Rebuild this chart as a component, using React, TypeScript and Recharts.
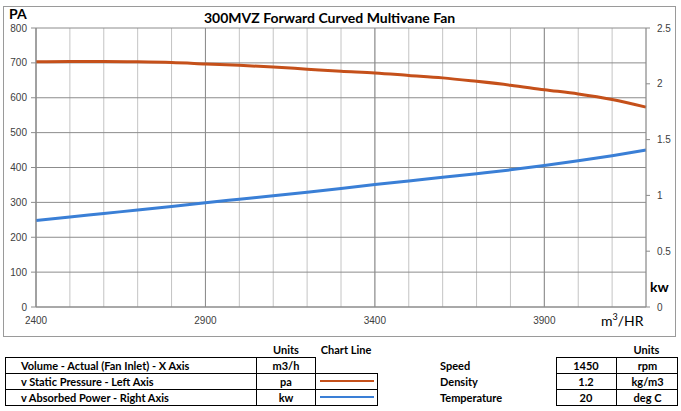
import { LineChart, Line, XAxis, YAxis, CartesianGrid, ReferenceLine } from 'recharts';
import type { CSSProperties, ReactNode } from 'react';

// volume flow, m3/hr
const flowRate = [2400, 2500, 2600, 2700, 2800, 2900, 3000, 3100, 3200, 3300, 3400, 3500, 3600, 3700, 3800, 3900, 4000, 4100, 4200];
// static pressure, Pa (left axis)
const staticPressure = [703, 704, 704, 703, 701, 697, 693, 688, 682, 676, 671, 664, 657, 647, 636, 623, 611, 595, 573];
// absorbed power, kW (right axis)
const absorbedPower = [0.775, 0.806, 0.838, 0.869, 0.901, 0.935, 0.966, 0.997, 1.029, 1.062, 1.097, 1.13, 1.162, 1.195, 1.229, 1.268, 1.31, 1.356, 1.406];

const xGridTicks = [2400, 2500, 2600, 2700, 2800, 2900, 3000, 3100, 3200, 3300, 3400, 3500, 3600, 3700, 3800, 3900, 4000, 4100, 4200];
const xLabelTicks = [2400, 2900, 3400, 3900];
const paTicks = [0, 100, 200, 300, 400, 500, 600, 700, 800];
const kwTicks = [0, 0.5, 1, 1.5, 2, 2.5];

const ORANGE = '#c5501a';
const BLUE = '#3a7fd6';
const GRID_DARK = '#8c8c8c';
const GRID_LIGHT = '#c4c4c4';

const data = flowRate.map((q, i) => ({ q, pa: staticPressure[i], kw: absorbedPower[i] }));

const tickStyle = { fontSize: 10, fill: '#404040', fontFamily: '"Liberation Sans", Arial, sans-serif' };
const boldFont = 'Lato, "Liberation Sans", sans-serif';

function Txt({ x, y, w, align = 'left', size = 11, bold = true, children }: { x: number; y: number; w?: number; align?: 'left' | 'center' | 'right'; size?: number; bold?: boolean; children: ReactNode }) {
    const style: CSSProperties = {
        position: 'absolute',
        left: x,
        top: y,
        width: w,
        textAlign: align,
        fontSize: size,
        fontWeight: bold ? 700 : 400,
        fontFamily: boldFont,
        lineHeight: '16px',
        color: '#000',
        whiteSpace: 'nowrap',
    };
    return <div style={style}>{children}</div>;
}

function Box({ x, y, w, h, style }: { x: number; y: number; w: number; h: number; style?: CSSProperties }) {
    return <div style={{ position: 'absolute', left: x, top: y, width: w, height: h, boxSizing: 'border-box', ...style }} />;
}

export default function App() {
    return (
        <div style={{ position: 'absolute', left: 0, top: 0, width: 681, height: 411, background: '#fff', overflow: 'hidden' }}>
            {/* chart frame */}
            <Box x={3} y={6} w={673} h={331} style={{ border: '1px solid #9a9a9a' }} />

            <div style={{ position: 'absolute', left: 0, top: 0 }}>
                <LineChart width={681} height={340} data={data} margin={{ top: 28, right: 6, bottom: 3, left: 6 }}>
                    <CartesianGrid yAxisId="pa" vertical={true} horizontal={false} stroke={GRID_LIGHT} />
                    <CartesianGrid yAxisId="pa" vertical={false} horizontal={true} stroke={GRID_DARK} />
                    {xLabelTicks.map((v) => (
                        <ReferenceLine key={v} x={v} yAxisId="pa" stroke={GRID_DARK} />
                    ))}
                    <XAxis
                        dataKey="q"
                        type="number"
                        domain={[2400, 4200]}
                        ticks={xGridTicks}
                        interval={0}
                        tickFormatter={(v) => (xLabelTicks.includes(v) ? String(v) : '')}
                        tickLine={false}
                        tickSize={8}
                        height={30}
                        axisLine={{ stroke: GRID_DARK }}
                        tick={tickStyle}
                    />
                    <YAxis
                        yAxisId="pa"
                        domain={[0, 800]}
                        ticks={paTicks}
                        interval={0}
                        width={30}
                        tickSize={5}
                        tickMargin={4}
                        axisLine={{ stroke: GRID_DARK }}
                        tickLine={{ stroke: GRID_DARK }}
                        tick={tickStyle}
                    />
                    <YAxis
                        yAxisId="kw"
                        orientation="right"
                        domain={[0, 2.5]}
                        ticks={kwTicks}
                        interval={0}
                        width={29}
                        tickSize={4}
                        tickMargin={7}
                        axisLine={{ stroke: GRID_DARK }}
                        tickLine={{ stroke: GRID_DARK }}
                        tick={{ ...tickStyle, textAnchor: 'start' }}
                    />
                    <Line yAxisId="pa" type="monotone" dataKey="pa" stroke={ORANGE} strokeWidth={3} dot={false} isAnimationActive={false} />
                    <Line yAxisId="kw" type="monotone" dataKey="kw" stroke={BLUE} strokeWidth={3} dot={false} isAnimationActive={false} />
                </LineChart>
            </div>

            {/* titles and axis names */}
            <Txt x={204} y={10} w={238} align="center" size={14}>300MVZ Forward Curved Multivane Fan</Txt>
            <Txt x={9} y={6} size={14}>PA</Txt>
            <Txt x={650} y={279} size={14}>kw</Txt>
            <Txt x={601} y={313} size={14} bold={false}>
                m<sup style={{ fontSize: 9, lineHeight: 0 }}>3</sup>/HR
            </Txt>

            {/* left table */}
            <Txt x={257} y={342} w={58} align="center">Units</Txt>
            <Txt x={315} y={342} w={62} align="center">Chart Line</Txt>
            <Box x={5} y={357} w={311} h={49} style={{ border: '1px solid #000' }} />
            <Box x={256} y={357} w={1} h={49} style={{ background: '#000' }} />
            <Box x={5} y={373} w={373} h={1} style={{ background: '#000' }} />
            <Box x={5} y={389} w={373} h={1} style={{ background: '#000' }} />
            <Box x={315} y={373} w={63} h={33} style={{ border: '1px solid #000' }} />
            <Txt x={21} y={358}>Volume - Actual (Fan Inlet) - X Axis</Txt>
            <Txt x={21} y={374}>v Static Pressure - Left Axis</Txt>
            <Txt x={21} y={390}>v Absorbed Power - Right Axis</Txt>
            <Txt x={257} y={358} w={58} align="center">m3/h</Txt>
            <Txt x={257} y={374} w={58} align="center">pa</Txt>
            <Txt x={257} y={390} w={58} align="center">kw</Txt>
            <Box x={320} y={380} w={54} h={2} style={{ background: ORANGE }} />
            <Box x={320} y={396} w={54} h={2} style={{ background: BLUE }} />

            {/* right table */}
            <Txt x={616} y={342} w={61} align="center">Units</Txt>
            <Txt x={440} y={358}>Speed</Txt>
            <Txt x={440} y={374}>Density</Txt>
            <Txt x={440} y={390}>Temperature</Txt>
            <Box x={556} y={357} w={122} h={49} style={{ border: '1px solid #000' }} />
            <Box x={616} y={357} w={1} h={49} style={{ background: '#000' }} />
            <Box x={556} y={373} w={122} h={1} style={{ background: '#000' }} />
            <Box x={556} y={389} w={122} h={1} style={{ background: '#000' }} />
            <Txt x={556} y={358} w={60} align="center">1450</Txt>
            <Txt x={556} y={374} w={60} align="center">1.2</Txt>
            <Txt x={556} y={390} w={60} align="center">20</Txt>
            <Txt x={617} y={358} w={61} align="center">rpm</Txt>
            <Txt x={617} y={374} w={61} align="center">kg/m3</Txt>
            <Txt x={617} y={390} w={61} align="center">deg C</Txt>
        </div>
    );
}
